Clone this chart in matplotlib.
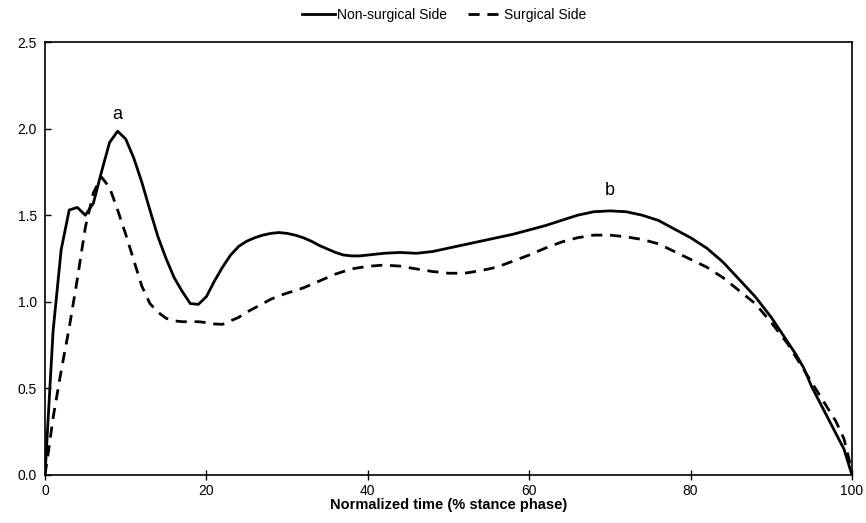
import matplotlib
matplotlib.use("Agg")
import matplotlib.pyplot as plt

plt.rcParams['font.family'] = ['Liberation Sans', 'DejaVu Sans']

x_non = [0, 1, 2, 3, 4, 5, 6, 7, 8, 9, 10, 11, 12, 13, 14, 15, 16, 17, 18, 19,
         20, 21, 22, 23, 24, 25, 26, 27, 28, 29, 30, 31, 32, 33, 34, 35, 36, 37,
         38, 39, 40, 42, 44, 46, 48, 50, 52, 54, 56, 58, 60, 62, 64, 66, 68, 70,
         72, 74, 76, 78, 80, 82, 84, 86, 88, 90, 92, 93, 94, 95, 96, 97, 98, 99, 100]
y_non = [0.00, 0.83, 1.30, 1.53, 1.545, 1.50, 1.57, 1.75, 1.92, 1.985, 1.94, 1.83,
         1.69, 1.53, 1.375, 1.25, 1.14, 1.06, 0.99, 0.985, 1.03, 1.12, 1.20, 1.27,
         1.32, 1.35, 1.37, 1.385, 1.395, 1.40, 1.395, 1.385, 1.37, 1.35, 1.325,
         1.305, 1.285, 1.27, 1.265, 1.265, 1.27, 1.28, 1.285, 1.28, 1.29, 1.31,
         1.33, 1.35, 1.37, 1.39, 1.415, 1.44, 1.47, 1.50, 1.52, 1.525, 1.52, 1.50,
         1.47, 1.42, 1.37, 1.31, 1.23, 1.13, 1.03, 0.91, 0.77, 0.70, 0.62, 0.51,
         0.42, 0.33, 0.24, 0.15, 0.00]

x_sur = [0, 0.5, 1, 2, 3, 4, 5, 6, 7, 8, 9, 10, 11, 12, 13, 14, 15, 16, 17, 18,
         19, 20, 21, 22, 23, 24, 25, 26, 27, 28, 29, 30, 32, 34, 36, 38, 40, 42,
         44, 46, 48, 50, 52, 54, 56, 58, 60, 62, 64, 66, 68, 70, 72, 74, 76, 78,
         80, 82, 84, 86, 88, 90, 92, 94, 96, 98, 99, 100]
y_sur = [0.00, 0.16, 0.33, 0.60, 0.85, 1.13, 1.43, 1.63, 1.72, 1.66, 1.53, 1.39,
         1.24, 1.09, 0.99, 0.94, 0.905, 0.89, 0.885, 0.885, 0.885, 0.88, 0.872,
         0.87, 0.89, 0.91, 0.94, 0.965, 0.99, 1.015, 1.035, 1.05, 1.08, 1.12,
         1.16, 1.19, 1.205, 1.212, 1.206, 1.19, 1.175, 1.165, 1.165, 1.18, 1.20,
         1.235, 1.27, 1.31, 1.345, 1.37, 1.385, 1.385, 1.375, 1.36, 1.335, 1.29,
         1.245, 1.20, 1.14, 1.065, 0.99, 0.88, 0.76, 0.61, 0.46, 0.31, 0.21, 0.02]

x_ticks = [0, 20, 40, 60, 80, 100]
y_ticks = [0.0, 0.5, 1.0, 1.5, 2.0, 2.5]

fig = plt.figure(figsize=(8.66, 5.23), dpi=100)
ax = fig.add_axes([45/866, 1-475/523, (852-45)/866, (475-42)/523])

ax.plot(x_non, y_non, color='black', lw=2.0, label='Non-surgical Side')
ax.plot(x_sur, y_sur, color='black', lw=2.0, dashes=(4, 2.8), label='Surgical Side')

ax.text(9, 2.035, 'a', fontsize=13, ha='center', va='bottom')
ax.text(70, 1.595, 'b', fontsize=13, ha='center', va='bottom')

ax.set_xlim(0, 100)
ax.set_ylim(0, 2.5)
ax.set_xticks(x_ticks)
ax.set_yticks(y_ticks)
ax.set_yticklabels([f'{v:.1f}' for v in y_ticks])
ax.tick_params(axis='x', direction='inout', length=7, width=1, labelsize=10, pad=3)
ax.tick_params(axis='y', direction='in', length=4, width=1, labelsize=10, pad=6)
for s in ax.spines.values():
    s.set_linewidth(1.2)
ax.set_xlabel('Normalized time (% stance phase)', fontsize=10.5, fontweight='bold', labelpad=0)

leg = fig.legend(loc='center', bbox_to_anchor=(444/866, 1-15/523), ncol=2, frameon=False,
                 fontsize=10, handlelength=2.4, handletextpad=0.15, columnspacing=1.5)

fig.savefig('out.png', dpi=100)
